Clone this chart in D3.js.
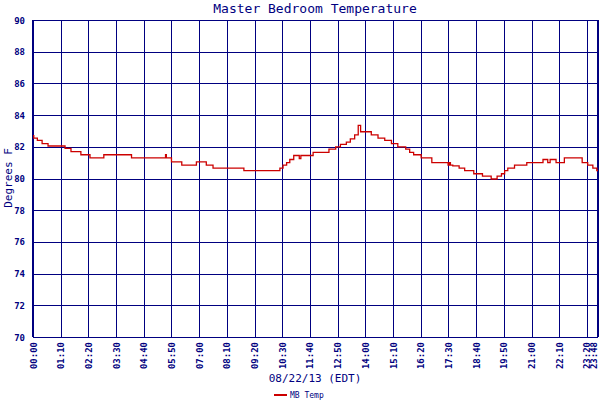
<!DOCTYPE html>
<html><head><meta charset="utf-8">
<script src="https://cdn.jsdelivr.net/npm/d3@7"></script>
<style>body{margin:0;background:#fff}</style>
</head><body><svg id="c" width="600" height="400"></svg>
<script>
const times=[0,2,11,23,38,81,96,121,144,179,249,335,337,350,376,413,438,455,533,624,632,641,649,659,673,677,708,748,765,777,792,802,813,822,828,855,872,889,906,922,942,952,962,981,1008,1049,1052,1055,1061,1077,1091,1114,1136,1158,1173,1184,1192,1200,1217,1248,1289,1301,1307,1322,1343,1388,1402,1415,1425,1428];
const temps=[82.7,82.55,82.4,82.2,82.05,81.9,81.7,81.5,81.3,81.5,81.3,81.5,81.3,81.05,80.85,81.05,80.85,80.65,80.5,80.65,80.85,81.0,81.2,81.45,81.25,81.45,81.65,81.85,82.0,82.15,82.3,82.5,82.75,83.35,82.95,82.75,82.55,82.4,82.2,82.0,81.85,81.65,81.5,81.3,81.0,80.85,81.0,80.85,80.8,80.65,80.5,80.3,80.15,79.97,80.15,80.3,80.5,80.65,80.85,81.0,81.2,81.0,81.2,81.0,81.3,81.0,80.85,80.65,80.5,80.5];
const xTicks=[0,70,140,210,280,350,420,490,560,630,700,770,840,910,980,1050,1120,1190,1260,1330,1400,1428];
const yTicks=[70,72,74,76,78,80,82,84,86,88,90];
const fmt=m=>String(Math.floor(m/60)).padStart(2,"0")+":"+String(m%60).padStart(2,"0");
const navy="#000080", red="#cc0000", font="DejaVu Sans Mono";
const svg=d3.select("#c");
const x=d3.scaleLinear().domain([0,1428]).range([33,598]);
const y=d3.scaleLinear().domain([70,90]).range([337,20]);
const g=svg.append("g").attr("shape-rendering","crispEdges");
g.selectAll(".h").data(yTicks).join("line").attr("x1",33).attr("x2",598).attr("y1",d=>Math.round(y(d))+0.5).attr("y2",d=>Math.round(y(d))+0.5).attr("stroke",navy).attr("stroke-width",1);
g.selectAll(".v").data(xTicks).join("line").attr("y1",20).attr("y2",337).attr("x1",d=>Math.round(x(d))+0.5).attr("x2",d=>Math.round(x(d))+0.5).attr("stroke",navy).attr("stroke-width",1);
g.append("line").attr("x1",33).attr("x2",33).attr("y1",20).attr("y2",337).attr("stroke",navy).attr("stroke-width",2);
g.append("line").attr("x1",598).attr("x2",598).attr("y1",20).attr("y2",337).attr("stroke",navy).attr("stroke-width",2);
svg.selectAll(".yl").data(yTicks).join("text").attr("x",25).attr("y",d=>y(d)+3.5).attr("text-anchor","end")
 .attr("font-family",font).attr("font-size",9).attr("font-weight","bold").attr("fill",navy).text(d=>d);
svg.selectAll(".xl").data(xTicks).join("text").attr("transform",d=>`translate(${Math.min(x(d)+3.5,597)},342) rotate(-90)`).attr("text-anchor","end")
 .attr("font-family",font).attr("font-size",9).attr("font-weight","bold").attr("fill",navy).text(fmt);
const pts=times.map((t,i)=>[t,temps[i]]);
svg.append("path").datum(pts).attr("fill","none").attr("stroke",red).attr("stroke-width",1.3)
 .attr("d",d3.line().x(d=>x(d[0])).y(d=>y(d[1])).curve(d3.curveStepAfter));
svg.append("text").attr("x",315).attr("y",13).attr("text-anchor","middle").attr("font-family",font).attr("font-size",13).attr("fill",navy).text("Master Bedroom Temperature");
svg.append("text").attr("transform","translate(12,178) rotate(-90)").attr("text-anchor","middle").attr("font-family",font).attr("font-size",11).attr("fill",navy).text("Degrees F");
svg.append("text").attr("x",315).attr("y",382).attr("text-anchor","middle").attr("font-family",font).attr("font-size",11).attr("fill",navy).text("08/22/13 (EDT)");
svg.append("line").attr("x1",274).attr("x2",287).attr("y1",395).attr("y2",395).attr("stroke",red).attr("stroke-width",2);
svg.append("text").attr("x",290).attr("y",398).attr("font-family",font).attr("font-size",8).attr("fill",navy).text("MB Temp");
</script></body></html>
